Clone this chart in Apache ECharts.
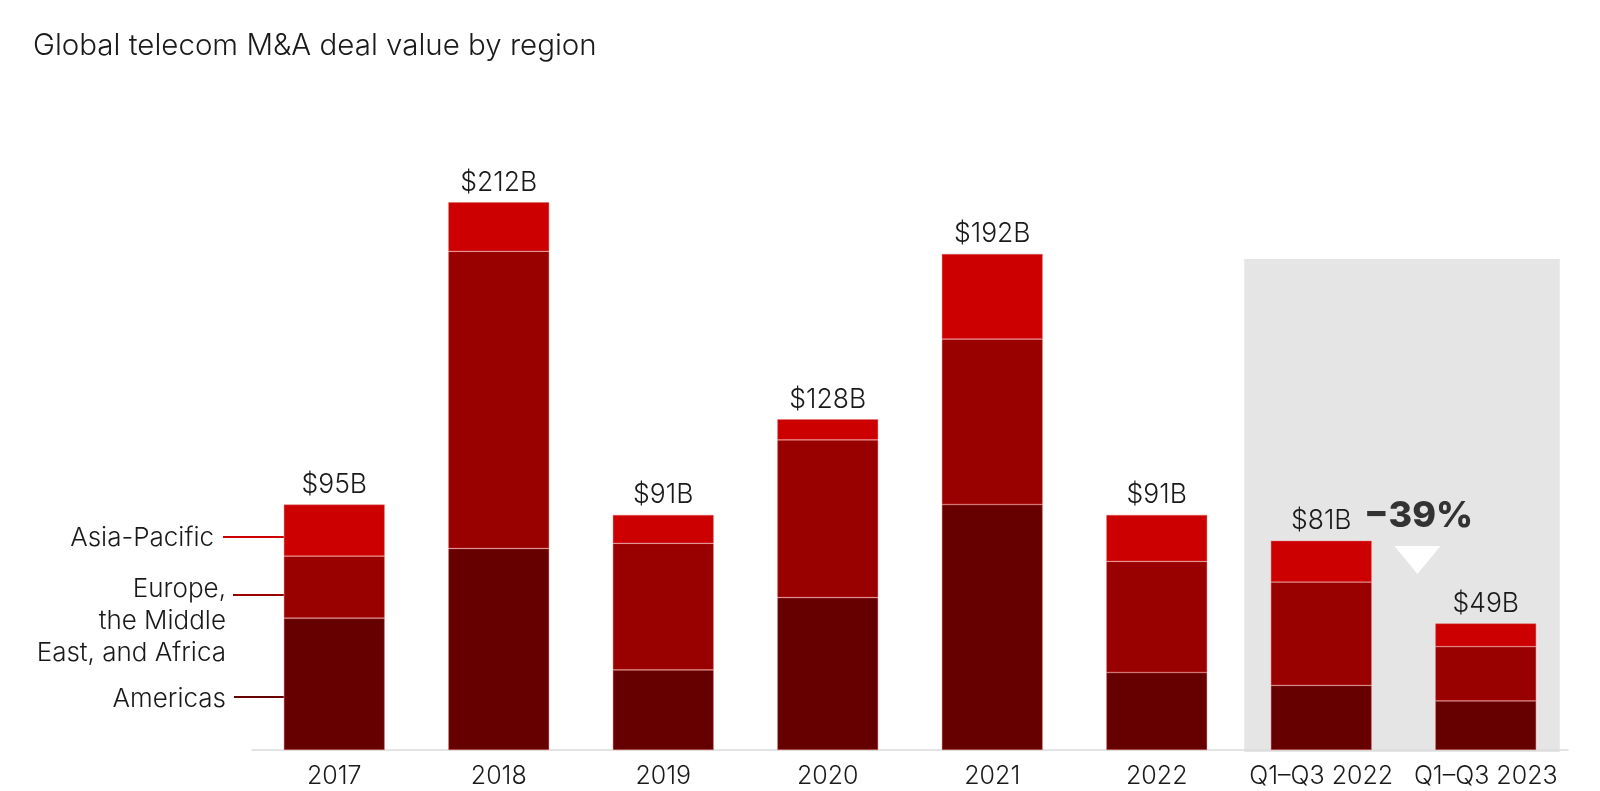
<!DOCTYPE html>
<html>
<head>
<meta charset="utf-8">
<script src="https://cdn.jsdelivr.net/npm/echarts@6/dist/echarts.min.js"></script>
<style>
html,body{margin:0;padding:0;background:#fff;}
#chart{width:1600px;height:791px;}
</style>
</head>
<body>
<div id="chart"></div>
<script>
const categories = ['2017', '2018', '2019', '2020', '2021', '2022', 'Q1–Q3 2022', 'Q1–Q3 2023'];
const americas = [51, 78, 31, 59, 95, 30, 25, 19];
const emea = [24, 115, 49, 61, 64, 43, 40, 21];
const asiaPacific = [20, 19, 11, 8, 33, 18, 16, 9];
const totals = [95, 212, 91, 128, 192, 91, 81, 49];
const totalLabels = totals.map(v => '$' + v + 'B');
const changeLabel = '−39%';
const shadedTop = 190;

const FONT = 'Inter, Roboto, "Noto Sans", sans-serif';
const chart = echarts.init(document.getElementById('chart'));
const border = {borderColor: 'rgba(225,100,100,0.6)', borderWidth: 0.7};

chart.setOption({
  animation: false,
  backgroundColor: '#fff',
  title: {
    text: 'Global telecom M&A deal value by region',
    left: 28, top: 26,
    textStyle: {fontFamily: FONT, fontSize: 29.5, fontWeight: 300, color: '#1a1a1a'}
  },
  grid: {left: 252, right: 32, top: 104, bottom: 41},
  xAxis: {
    type: 'category',
    data: categories,
    axisLine: {lineStyle: {color: '#dcdcdc', width: 1.5}},
    axisTick: {show: false},
    axisLabel: {interval: 0, fontFamily: FONT, fontSize: 25, fontWeight: 300, color: '#1a1a1a', margin: 14}
  },
  yAxis: {type: 'value', min: 0, max: 250, show: false, splitLine: {show: false}},
  series: [
    {name: 'Americas', type: 'bar', stack: 't', barWidth: 101, data: americas,
     itemStyle: Object.assign({color: '#660000'}, border), z: 3},
    {name: 'Europe, the Middle East, and Africa', type: 'bar', stack: 't', barWidth: 101, data: emea,
     itemStyle: Object.assign({color: '#990000'}, border), z: 3},
    {name: 'Asia-Pacific', type: 'bar', stack: 't', barWidth: 101, data: asiaPacific,
     itemStyle: Object.assign({color: '#cc0000'}, border), z: 3,
     label: {show: true, position: 'top', distance: 6,
       formatter: p => totalLabels[p.dataIndex],
       fontFamily: FONT, fontSize: 26.5, fontWeight: 300, color: '#1a1a1a'}}
  ]
});

function drawGraphics() {
  const base = chart.convertToPixel({gridIndex: 0}, [categories[6], 0]);
  const c7 = chart.convertToPixel({gridIndex: 0}, [categories[7], 0]);
  const top = chart.convertToPixel({gridIndex: 0}, [categories[6], shadedTop]);
  const p2017 = chart.convertToPixel({gridIndex: 0}, [categories[0], 0]);
  const barLeft = p2017[0] - 50.5;
  const midX = (base[0] + c7[0]) / 2;
  const elements = [
    {type: 'rect', z: -10, shape: {x: base[0] - 77, y: top[1], width: (c7[0] + 74) - (base[0] - 77), height: base[1] - top[1] + 2},
     style: {fill: '#e5e5e5'}},
    {type: 'text', z: 10, style: {text: changeLabel, x: midX + 15, y: 516, textAlign: 'center', textVerticalAlign: 'middle',
      fontFamily: 'Inter, Roboto, sans-serif', fontSize: 36, fontWeight: 800, fill: '#333'}},
    {type: 'polygon', z: 10, shape: {points: [[midX + 14 - 23, 546], [midX + 14 + 23, 546], [midX + 14, 574]]}, style: {fill: '#fff'}},
    {type: 'text', z: 10, style: {text: 'Asia-Pacific', x: 214, y: 538, textAlign: 'right', textVerticalAlign: 'middle',
      fontFamily: FONT, fontSize: 26, fontWeight: 300, fill: '#1a1a1a'}},
    {type: 'line', z: 10, shape: {x1: 223, y1: 537, x2: barLeft, y2: 537}, style: {stroke: '#cc0000', lineWidth: 2}},
    {type: 'text', z: 10, style: {text: 'Europe,\nthe Middle\nEast, and Africa', x: 226, y: 621, textAlign: 'right', textVerticalAlign: 'middle',
      lineHeight: 32, fontFamily: FONT, fontSize: 26, fontWeight: 300, fill: '#1a1a1a'}},
    {type: 'line', z: 10, shape: {x1: 233, y1: 595, x2: barLeft, y2: 595}, style: {stroke: '#990000', lineWidth: 2}},
    {type: 'text', z: 10, style: {text: 'Americas', x: 226, y: 699, textAlign: 'right', textVerticalAlign: 'middle',
      fontFamily: FONT, fontSize: 26, fontWeight: 300, fill: '#1a1a1a'}},
    {type: 'line', z: 10, shape: {x1: 234, y1: 697, x2: barLeft, y2: 697}, style: {stroke: '#660000', lineWidth: 2}}
  ];
  chart.setOption({graphic: {elements: elements}});
}
drawGraphics();
</script>
</body>
</html>
